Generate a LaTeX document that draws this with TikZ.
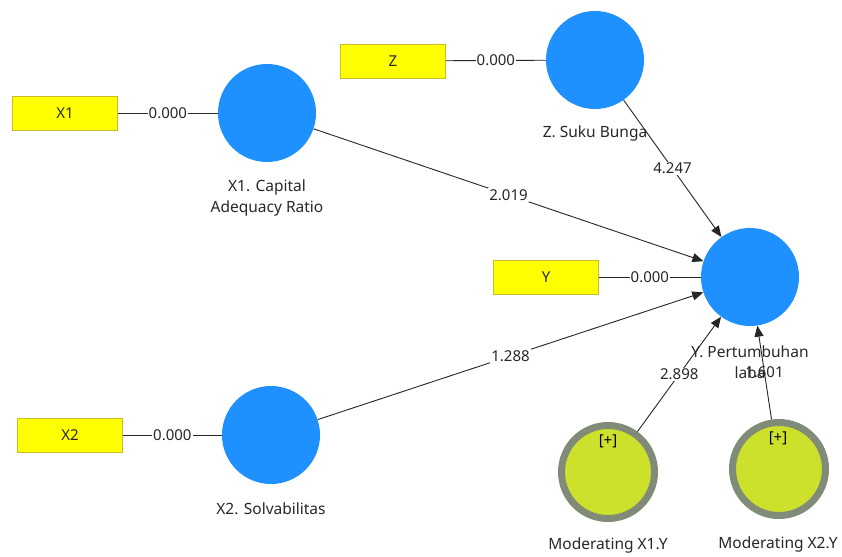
\documentclass[tikz,border=0pt]{standalone}
\usepackage{fontspec}
\setmainfont{Noto Sans}
\usetikzlibrary{arrows.meta}
\definecolor{lvblue}{RGB}{30,144,255}
\definecolor{indfill}{RGB}{255,255,0}
\definecolor{indborder}{RGB}{200,190,40}
\definecolor{modfill}{RGB}{204,224,44}
\definecolor{modborder}{RGB}{128,140,120}
\definecolor{txt}{RGB}{40,40,40}
\tikzset{
  lv/.style={circle, fill=lvblue, minimum size=98pt, inner sep=0pt},
  ind/.style={rectangle, fill=indfill, draw=indborder, line width=0.8pt, minimum width=105pt, minimum height=34pt, inner sep=0pt, font=\fontsize{15}{17}\selectfont, text=txt},
  modlv/.style={circle, fill=modfill, draw=modborder, line width=7pt, minimum size=93pt, inner sep=0pt},
  lvname/.style={font=\fontsize{15.5}{21}\selectfont, text=txt, align=center},
  lbl/.style={fill=white, inner sep=1pt, font=\fontsize{15}{17}\selectfont, text=txt},
  plus/.style={font=\fontsize{15}{17}\selectfont, text=black},
  pathedge/.style={draw=black!85, line width=0.9pt, -{Triangle[length=11pt,width=9pt]}},
  link/.style={draw=black!85, line width=0.9pt},
}
\begin{document}
\begin{tikzpicture}[x=1pt,y=-1pt]
\useasboundingbox[fill=white] (0,0) rectangle (842,556);
% indicators
\node[ind] (bx1) at (65,113) {X1};
\node[ind] (bz) at (393,61) {Z};
\node[ind] (by) at (546,277) {Y};
\node[ind] (bx2) at (70,435) {X2};
% latent variables
\node[lv] (x1) at (267,113) {};
\node[lv] (z) at (595,60) {};
\node[lv] (y) at (750,277) {};
\node[lv] (x2) at (271,435) {};
\node[modlv] (m1) at (608,472) {};
\node[modlv] (m2) at (779,469) {};
\node[plus] (p1) at (608,441) {[+]};
\node[plus] (p2) at (778,438) {[+]};
% names
\node[lvname] (nx1) at (267,198) {X1. Capital\\Adequacy Ratio};
\node[lvname] (nz) at (595,133) {Z. Suku Bunga};
\node[lvname] (ny) at (750,362) {Y. Pertumbuhan\\laba};
\node[lvname] (nx2) at (271,509) {X2. Solvabilitas};
\node[lvname] (nm1) at (608,545) {Moderating X1.Y};
\node[lvname] (nm2) at (778,544) {Moderating X2.Y};
% outer links
\draw[link] (bx1) -- node[lbl] {0.000} (x1);
\draw[link] (bz) -- node[lbl] {0.000} (z);
\draw[link] (by) -- node[lbl] {0.000} (y);
\draw[link] (bx2) -- node[lbl] {0.000} (x2);
% paths
\draw[pathedge] (x1) -- node[lbl] {2.019} (y);
\draw[pathedge] (z) -- node[lbl] {4.247} (y);
\draw[pathedge] (x2) -- node[lbl] {1.288} (y);
\draw[pathedge] (m1) -- node[lbl] {2.898} (y);
\draw[pathedge] (m2) -- node[lbl, fill=none] {1.601} (y);
\end{tikzpicture}
\end{document}
